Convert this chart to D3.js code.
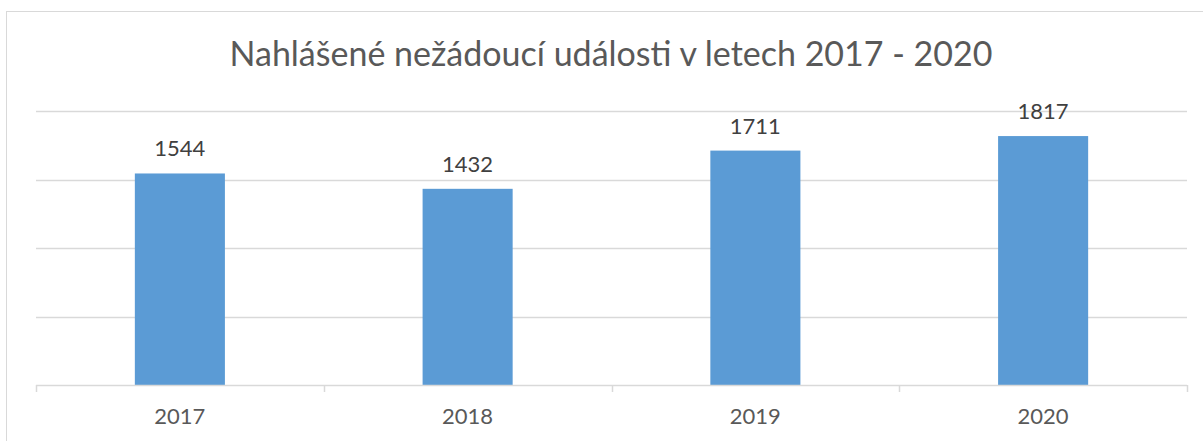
<!DOCTYPE html>
<html>
<head>
<meta charset="utf-8">
<script src="https://cdn.jsdelivr.net/npm/d3@7"></script>
<style>
  html, body { margin: 0; padding: 0; background: #fff; overflow: hidden; }
  #chart { width: 1203px; height: 441px; }
</style>
</head>
<body>
<div id="chart"></div>
<script>
// chart data
const title = 'Nahlášené nežádoucí události v letech 2017 - 2020';
const years = ['2017', '2018', '2019', '2020'];
const events = [1544, 1432, 1711, 1817];
const yTicks = [0, 500, 1000, 1500, 2000];

const width = 1203, height = 441;
const margin = { top: 111, right: 16, bottom: 56, left: 36 };
const font = 'Lato, "Open Sans", sans-serif';
const textColor = '#595959';
const gridColor = '#d9d9d9';

const svg = d3.select('#chart')
  .append('svg')
  .attr('width', width)
  .attr('height', height);

// outer chart frame (runs past the window on the right and bottom)
svg.append('rect')
  .attr('x', 6.5)
  .attr('y', 11.5)
  .attr('width', width + 20)
  .attr('height', height + 20)
  .attr('fill', '#fff')
  .attr('stroke', gridColor)
  .attr('stroke-width', 1);

svg.append('text')
  .attr('x', 611)
  .attr('y', 66)
  .attr('text-anchor', 'middle')
  .style('font-family', font)
  .style('font-size', '34px')
  .style('fill', textColor)
  .text(title);

const plotW = width - margin.left - margin.right;
const plotH = height - margin.top - margin.bottom;

const g = svg.append('g')
  .attr('transform', `translate(${margin.left},${margin.top})`);

const x = d3.scaleBand()
  .domain(years)
  .range([0, plotW])
  .paddingInner(0.687)
  .paddingOuter(0.3435);

const y = d3.scaleLinear()
  .domain([0, 2000])
  .range([plotH, 0]);

// gridlines
g.append('g')
  .selectAll('line')
  .data(yTicks.slice(1))
  .join('line')
  .attr('x1', 0)
  .attr('x2', plotW)
  .attr('y1', d => Math.round(y(d)) + 0.5)
  .attr('y2', d => Math.round(y(d)) + 0.5)
  .attr('stroke', gridColor)
  .attr('stroke-width', 1.3);

// bars
g.append('g')
  .selectAll('rect')
  .data(events)
  .join('rect')
  .attr('x', (d, i) => x(years[i]))
  .attr('y', d => y(d))
  .attr('width', x.bandwidth())
  .attr('height', d => plotH - y(d))
  .attr('fill', '#5b9bd5');

// value labels
g.append('g')
  .selectAll('text')
  .data(events)
  .join('text')
  .attr('x', (d, i) => x(years[i]) + x.bandwidth() / 2)
  .attr('y', d => y(d) - 17)
  .attr('text-anchor', 'middle')
  .style('font-family', font)
  .style('font-size', '22px')
  .style('fill', '#404040')
  .text(d => d);

// category axis with ticks between categories
const step = x.step();
const xAxis = g.append('g')
  .attr('transform', `translate(0,${plotH})`);

xAxis.append('line')
  .attr('x1', 0)
  .attr('x2', plotW)
  .attr('y1', 0.5)
  .attr('y2', 0.5)
  .attr('stroke', gridColor)
  .attr('stroke-width', 1.5);

xAxis.selectAll('line.tick')
  .data(d3.range(years.length + 1))
  .join('line')
  .attr('class', 'tick')
  .attr('x1', i => Math.round(i * step) + 0.5)
  .attr('x2', i => Math.round(i * step) + 0.5)
  .attr('y1', 0)
  .attr('y2', 7)
  .attr('stroke', gridColor)
  .attr('stroke-width', 1.5);

xAxis.selectAll('text')
  .data(years)
  .join('text')
  .attr('x', d => x(d) + x.bandwidth() / 2)
  .attr('y', 39)
  .attr('text-anchor', 'middle')
  .style('font-family', font)
  .style('font-size', '22px')
  .style('fill', textColor)
  .text(d => d);
</script>
</body>
</html>
